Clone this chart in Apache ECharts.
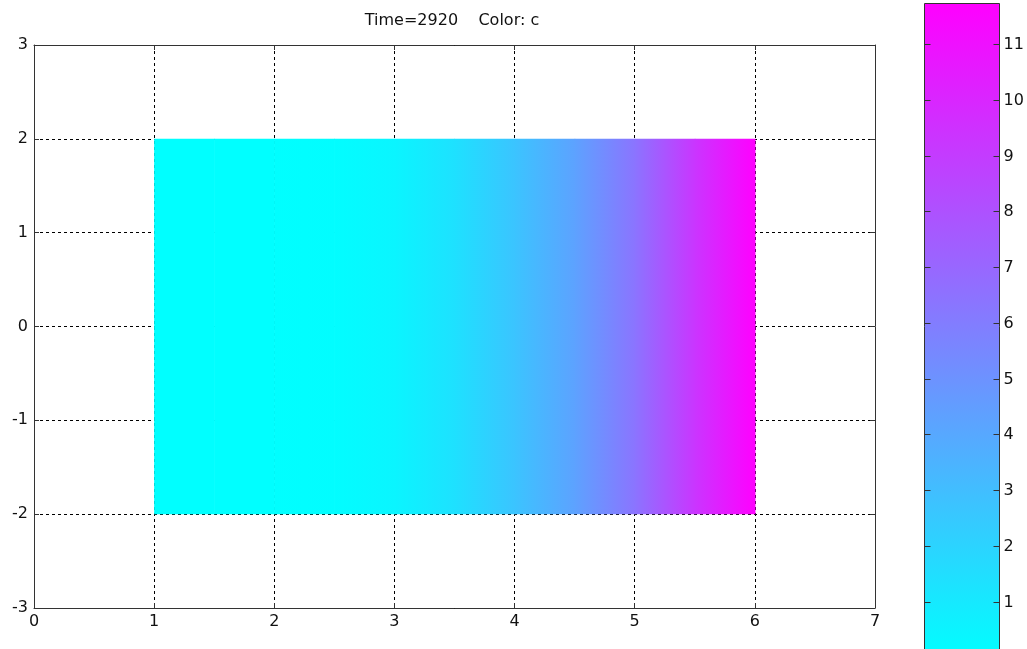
<!DOCTYPE html>
<html>
<head>
<meta charset="utf-8">
<script src="https://cdn.jsdelivr.net/npm/echarts@6/dist/echarts.min.js"></script>
<style>
html,body{margin:0;padding:0;background:#fff;}
#chart{width:1027px;height:649px;}
</style>
</head>
<body>
<div id="chart"></div>
<script>
// ---- data ----
const titleText = 'Time=2920    Color: c';
const xTicks = [0, 1, 2, 3, 4, 5, 6, 7];
const yTicks = [-3, -2, -1, 0, 1, 2, 3];
// sampled colour value c along x across the patch (y from -2 to 2)
const patchX = [1, 1.5, 2, 2.5, 3, 3.5, 4, 4.5, 5, 5.5, 6];
const patchC = [0, 0, 0.02, 0.1, 0.45, 1.4, 2.7, 4.3, 6.4, 9.3, 11.74];
const patchYBottom = -2;
const patchYTop = 2;
const colorbarMin = 0;        // colour limits
const colorbarMax = 11.74;
const colorbarVisibleMin = 0.15; // the colorbar runs past the bottom edge of the picture
const colorbarTicks = [1, 2, 3, 4, 5, 6, 7, 8, 9, 10, 11];

const FONT = 'DejaVu Sans';
const FS = 16;
const AX = '#333';

function cool(c) {
  let v = (c - colorbarMin) / (colorbarMax - colorbarMin);
  v = Math.max(0, Math.min(1, v));
  const r = Math.round(255 * v), g = Math.round(255 * (1 - v));
  return 'rgb(' + r + ',' + g + ',255)';
}

const segments = [];
for (let i = 0; i < patchX.length - 1; i++) {
  segments.push([patchX[i], patchX[i + 1], patchC[i], patchC[i + 1]]);
}

const chart = echarts.init(document.getElementById('chart'), null, {renderer: 'canvas'});

function mainAxisX(pos, labels, split) {
  return {
    type: 'value', gridIndex: 0, position: pos, min: xTicks[0], max: xTicks[xTicks.length - 1], interval: 1,
    axisLine: {show: true, onZero: false, lineStyle: {color: AX, width: 1}},
    axisTick: {show: true, inside: true, length: 5, lineStyle: {color: AX}},
    axisLabel: {show: labels, color: '#111', fontFamily: FONT, fontSize: FS, margin: 6},
    splitLine: {show: split, lineStyle: {color: '#000', type: [3, 3], width: 1}}
  };
}
function mainAxisY(pos, labels, split) {
  return {
    type: 'value', gridIndex: 0, position: pos, min: yTicks[0], max: yTicks[yTicks.length - 1], interval: 1,
    axisLine: {show: true, onZero: false, lineStyle: {color: AX, width: 1}},
    axisTick: {show: true, inside: true, length: 5, lineStyle: {color: AX}},
    axisLabel: {show: labels, color: '#111', fontFamily: FONT, fontSize: FS, margin: 6},
    splitLine: {show: split, lineStyle: {color: '#000', type: [3, 3], width: 1}}
  };
}

const option = {
  animation: false,
  backgroundColor: '#fff',
  graphic: [{
    type: 'text', x: 452, y: 21,
    style: {text: titleText, fill: '#111', font: FS + 'px "' + FONT + '"', textAlign: 'center', textVerticalAlign: 'middle'}
  }],
  grid: [
    {left: 34, right: 152, top: 45, bottom: 41, containLabel: false},
    {left: 924, width: 75, top: 3, bottom: 0, containLabel: false}
  ],
  xAxis: [
    mainAxisX('bottom', true, true),
    mainAxisX('top', false, false),
    {type: 'value', gridIndex: 1, position: 'top', min: 0, max: 1, show: false}
  ],
  yAxis: [
    mainAxisY('left', true, true),
    mainAxisY('right', false, false),
    {type: 'value', gridIndex: 1, position: 'right', min: colorbarVisibleMin, max: colorbarMax, show: false}
  ],
  series: [
    {
      type: 'custom', xAxisIndex: 0, yAxisIndex: 0, z: 2,
      encode: {x: [0, 1], y: []},
      data: segments,
      renderItem: function (params, api) {
        const p0 = api.coord([api.value(0), patchYTop]);
        const p1 = api.coord([api.value(1), patchYBottom]);
        return {
          type: 'rect',
          shape: {x: p0[0], y: p0[1], width: p1[0] - p0[0] + 0.6, height: p1[1] - p0[1]},
          style: {
            fill: new echarts.graphic.LinearGradient(0, 0, 1, 0, [
              {offset: 0, color: cool(api.value(2))},
              {offset: 1, color: cool(api.value(3))}
            ])
          }
        };
      }
    },
    {
      type: 'custom', xAxisIndex: 2, yAxisIndex: 2, z: 3,
      encode: {x: [], y: [0, 1]},
      data: [[colorbarMin, colorbarMax]],
      renderItem: function (params, api) {
        const pTop = api.coord([0, api.value(1)]);
        const pBot = api.coord([1, api.value(0)]);
        const x0 = Math.round(pTop[0]) + 0.5, x1 = Math.round(pBot[0]) + 0.5;
        const y0 = Math.round(pTop[1]) + 0.5, y1 = pBot[1];
        const children = [{
          type: 'rect',
          shape: {x: x0, y: y0, width: x1 - x0, height: y1 - y0},
          style: {
            fill: new echarts.graphic.LinearGradient(0, 0, 0, 1, [
              {offset: 0, color: cool(api.value(1))},
              {offset: 1, color: cool(api.value(0))}
            ]),
            stroke: AX, lineWidth: 1
          }
        }];
        colorbarTicks.forEach(function (t) {
          const y = Math.round(api.coord([0, t])[1]) + 0.5;
          children.push({type: 'line', shape: {x1: x0, y1: y, x2: x0 + 6, y2: y}, style: {stroke: AX, lineWidth: 1}});
          children.push({type: 'line', shape: {x1: x1 - 6, y1: y, x2: x1, y2: y}, style: {stroke: AX, lineWidth: 1}});
          children.push({type: 'text', x: x1 + 4, y: y,
            style: {text: String(t), fill: '#111', font: FS + 'px "' + FONT + '"', textAlign: 'left', textVerticalAlign: 'middle'}});
        });
        return {type: 'group', children: children};
      }
    }
  ]
};
chart.setOption(option);
</script>
</body>
</html>
